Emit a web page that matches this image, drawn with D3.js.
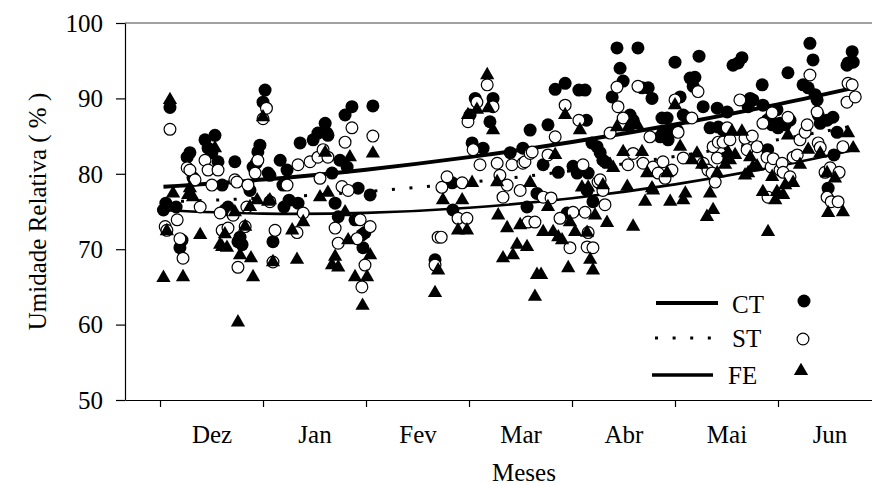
<!DOCTYPE html>
<html>
<head>
<meta charset="utf-8">
<script src="https://cdn.jsdelivr.net/npm/d3@7"></script>
<style>
  body { margin: 0; background: #fff; }
  svg text { font-family: "Liberation Serif", "Times New Roman", Times, serif; fill: #000; }
</style>
</head>
<body>
<svg id="chart" width="872" height="485"></svg>
<script>
// Months on the x axis (30-day blocks starting at day 0 = 1 Dez)
const meses = ["Dez", "Jan", "Fev", "Mar", "Abr", "Mai", "Jun"];
const inicioMes = [0, 30, 60, 90, 120, 150, 180];
const yTicks = [50, 60, 70, 80, 90, 100];

// Daily relative humidity (%) — [dia, UR]
const ct = [[1,75.2],[1.7,76.1],[2.9,88.8],[4.7,75.6],[5.8,70.2],[6.4,71.2],[7.9,82.2],[8.7,82.8],[9.6,79.5],[13.1,84.5],[14,83.4],[15.1,82.8],[16,85.1],[16.9,81.6],[18.1,78.5],[18.9,75.2],[19.8,75.6],[21.8,81.6],[22.7,71.0],[23.3,71.6],[23.9,70.6],[26.2,77.8],[27.1,80.9],[28,81.4],[28.5,82.9],[29.1,83.8],[30,89.5],[30.6,91.1],[31.5,80.1],[32,79.8],[32.9,71.0],[35,81.8],[35.8,78.5],[36.1,75.6],[37,80.5],[37.6,76.5],[40.2,76.1],[40.8,84.1],[44.6,84.5],[46,85.4],[48.1,86.7],[48.6,85.4],[48.9,85.1],[50.1,80.1],[51,76.1],[51.9,74.3],[52.4,81.8],[53.9,87.8],[54.5,80.9],[55.9,88.9],[56.8,73.9],[57.7,78.1],[58.8,71.9],[59.1,70.2],[59.7,72.2],[61.2,77.2],[62,89.0],
  [80.1,68.6],[85.1,78.8],[85.3,75.2],[90.3,87.8],[90.9,84.1],[91.8,90.0],[94.1,83.4],[96.1,86.9],[97,90.0],[102,82.8],[105.7,83.4],[106.9,75.6],[107.8,85.8],[109.8,77.4],[111.6,81.2],[113,86.5],[115.1,91.2],[116,80.2],[118,92.0],[118.6,74.8],[120.3,81.0],[121.5,80.1],[122,91.1],[123.8,91.1],[124.2,87.1],[124.4,77.8],[124.7,80.1],[125.8,84.1],[126.1,76.3],[127.3,83.6],[128.2,82.8],[129,81.8],[129.6,81.6],[131.7,90.2],[133.1,96.7],[134,94.0],[134.9,92.3],[136.9,87.8],[137.8,87.1],[139.2,96.7],[140.4,91.4],[142.2,91.4],[143.3,90.0],[145.7,84.9],[146.2,87.4],[146.5,85.5],[147.7,87.4],[148,84.5],[149.4,85.8],[150,94.8],[150.6,85.8],[151.5,90.2],[152.4,87.8],[153.8,87.4],[154.4,92.7],[155.3,91.6],[155.8,92.8],[157,95.6],[158.2,88.9],[160.2,86.1],[162.3,88.7],[162.6,86.2],[164,85.8],[164.6,82.1],[165.2,88.2],[166.9,94.4],[168.4,94.7],[169.5,95.4],[171.3,88.9],[171.9,90.0],[172.7,89.8],[175.4,91.8],[175.6,89.1],[176.8,87.1],[177,83.2],[177.7,87.4],[178.3,86.5],[179.7,88.5],[180,86.1],[180.6,86.7],[182.1,86.5],[182.9,93.4],[183.5,87.1],[187.3,91.8],[188.8,91.4],[189.3,97.3],[190.2,95.1],[190.8,90.5],[191.4,89.8],[191.7,87.8],[192.3,86.7],[194.3,87.1],[194.6,78.1],[196,87.5],[196.3,82.5],[197.2,85.5],[200.1,94.4],[200.4,94.7],[201.6,96.2],[201.9,94.8]];

const st = [[1.5,73.0],[2,72.5],[2.9,85.9],[5,73.9],[5.8,71.4],[6.7,68.8],[7.9,80.8],[8.7,80.5],[10.2,79.2],[11.7,75.6],[13.1,81.8],[14,80.5],[15.1,78.5],[16.9,80.5],[17.5,74.8],[18.1,72.5],[19.8,72.8],[21.3,74.5],[21.8,79.2],[22.4,78.9],[22.7,67.6],[24.8,73.0],[25.3,75.6],[25.6,78.5],[27.7,80.1],[28.5,81.8],[30,87.3],[31,88.7],[32,76.3],[32.9,68.3],[33.5,72.5],[37,78.5],[39.9,72.2],[40.2,81.2],[41.7,74.8],[43.7,81.6],[46,82.2],[46.6,79.4],[47.5,83.2],[48.9,82.2],[51,72.8],[51.9,70.8],[53,78.3],[53.9,84.2],[54.8,77.8],[55.9,86.1],[57.4,71.4],[58.3,73.9],[58.8,65.0],[59.7,67.9],[61.2,73.0],[62,85.0],
  [80.1,67.9],[81,71.6],[81.9,71.6],[82.1,78.2],[83.6,79.6],[86.8,74.1],[88,78.8],[89.4,74.1],[89.7,86.9],[91.2,83.2],[92.3,89.5],[93.2,81.2],[95.3,91.8],[97,88.9],[98.2,81.4],[99,79.8],[99.9,76.9],[101.1,78.5],[102.5,81.2],[104.9,77.8],[105.7,81.4],[106.3,81.6],[107.2,73.6],[107.8,82.7],[108.4,82.9],[109.2,73.6],[111.6,76.9],[113,82.5],[113.9,76.8],[115.1,84.9],[116.5,74.1],[118,89.1],[119.4,70.2],[120.3,74.9],[122,87.1],[123.2,81.2],[123.8,74.9],[124.4,70.3],[124.7,72.2],[126.1,70.2],[127.6,78.9],[128.2,79.2],[129,77.8],[129.6,75.9],[131.1,85.4],[133.1,91.5],[133.4,88.9],[134.9,87.4],[136.3,81.2],[137.8,82.7],[139.2,91.6],[140.7,81.4],[142.7,84.9],[143.6,80.9],[145.1,80.1],[146.5,81.6],[147.1,79.4],[149.1,80.5],[150,89.8],[150.9,85.5],[152.4,82.1],[154.9,87.4],[156.7,90.9],[158.2,81.4],[159.6,80.5],[160.8,80.1],[161.1,83.6],[161.7,78.9],[162.3,82.1],[162.6,84.2],[164,84.2],[165.2,86.1],[166,84.5],[168.9,89.8],[170.4,84.7],[171,83.2],[172.5,85.0],[173.9,83.6],[175.6,86.7],[176.8,82.2],[177.1,76.9],[178,80.9],[178.3,88.1],[178.6,82.0],[180.6,80.5],[181.2,81.4],[181.5,80.2],[182.9,87.5],[183.5,79.6],[184.4,82.2],[185.6,82.5],[186.4,84.5],[187.9,85.5],[188.5,86.5],[189.3,93.1],[191.4,88.2],[191.7,84.1],[192.3,83.5],[193.7,80.2],[194.3,76.9],[195.2,80.8],[195.5,76.3],[197.5,76.3],[197.8,80.2],[198.9,83.6],[200.1,89.5],[200.4,92.0],[201.6,91.8],[202.5,90.2]];

const fe = [[1,66.2],[2,72.4],[2.9,89.8],[3.8,77.4],[6.7,66.3],[8.2,77.2],[8.7,78.1],[9.6,76.9],[11.7,71.9],[16,83.4],[17.5,70.6],[18.1,70.3],[18.9,72.0],[19.5,70.2],[21.8,74.9],[22.7,60.3],[23.3,69.2],[24.8,73.0],[26.2,75.6],[26.5,68.8],[27.1,66.3],[28.3,76.5],[30,87.5],[31.5,76.3],[32,76.5],[32.9,68.3],[38.5,72.5],[39.9,68.6],[41.7,73.6],[46.6,76.9],[48.1,82.8],[48.9,77.5],[50.1,67.9],[51,69.0],[51.9,67.6],[53.9,74.9],[54.8,71.2],[55.3,82.2],[56.8,66.3],[59,62.5],[60.3,66.3],[61.2,69.2],[62,82.7],
  [80.1,64.2],[81,67.2],[82.4,76.5],[86.8,72.5],[88,76.5],[89.4,72.5],[89.7,87.8],[90.9,78.8],[92.3,88.5],[95.3,93.1],[95.6,88.7],[97,85.8],[98.2,78.9],[98.5,74.5],[99.9,68.8],[101.1,72.8],[102.8,69.2],[104,70.6],[104.9,73.2],[106.9,70.3],[107.8,78.8],[109.2,63.7],[109.8,66.6],[111,66.6],[111.6,72.3],[113,75.6],[114.5,72.3],[115.1,82.5],[116,71.6],[117.1,71.2],[118,87.8],[118.9,67.5],[119.4,73.6],[120.9,72.3],[122.3,85.8],[122.9,78.2],[124.4,72.2],[124.7,78.2],[125.3,68.6],[126.1,67.2],[126.7,74.5],[129,78.5],[130.2,73.5],[131.1,81.2],[132,80.8],[133.1,86.2],[134.9,82.9],[136.1,78.3],[136.4,86.2],[137.8,73.0],[139,86.5],[140.4,82.9],[141.3,76.3],[141.9,80.1],[143.3,78.1],[143.6,77.8],[147.7,80.1],[148.6,76.3],[150,89.1],[151.5,83.6],[152.4,76.5],[153,77.4],[154.9,81.8],[156.4,82.7],[157.9,81.2],[159.3,74.3],[160.2,77.4],[161.1,75.2],[162.3,80.1],[164.6,81.2],[165.5,82.8],[166,81.8],[166.6,85.6],[167.5,82.5],[169.5,85.6],[170.4,79.8],[171.3,80.1],[171.9,82.2],[172.7,80.9],[173.9,81.0],[175.6,77.6],[177.1,72.3],[178.3,79.6],[179.2,76.5],[179.7,77.6],[181.5,77.2],[182.1,78.5],[182.9,85.1],[184.4,78.8],[186.4,81.2],[188.8,83.2],[192.3,82.7],[194.3,80.1],[194.6,74.8],[196.6,79.4],[198.9,74.9],[200.4,85.4],[201.9,83.4]];

// Fitted trend curves, sampled at these days
const trendDias = [1, 30, 60, 90, 120, 150, 180, 202];
const ctTrend = [78.28, 79.23, 80.55, 82.21, 84.21, 86.54, 89.21, 91.39];
const stTrend = [76.27, 76.79, 77.65, 78.86, 80.41, 82.30, 84.52, 86.37];
const feTrend = [75.17, 74.72, 74.82, 75.50, 76.76, 78.60, 81.01, 83.15];

const legenda = ["CT", "ST", "FE"];

const svg = d3.select("#chart");
const FS = 25;

const x = d3.scaleLinear().domain([-10.2, 210]).range([125, 881]);
const y = d3.scaleLinear().domain([50, 100]).range([400, 23]);

// frame: top edge
svg.append("line")
  .attr("x1", x.range()[0]).attr("x2", x.range()[1])
  .attr("y1", y(100)).attr("y2", y(100))
  .attr("stroke", "#444").attr("stroke-width", 1.2);

// y axis
const gy = svg.append("g").attr("transform", `translate(${x.range()[0]},0)`)
  .call(d3.axisLeft(y).tickValues(yTicks).tickSize(9).tickSizeOuter(0).tickPadding(13).tickFormat(d3.format("d")));
gy.selectAll("text").attr("font-size", FS).attr("dy", "0.33em");

// x axis: month boundaries
const gx = svg.append("g").attr("transform", `translate(0,${y(50)})`)
  .call(d3.axisBottom(x).tickValues(inicioMes).tickSize(7).tickSizeOuter(0).tickFormat(""));

// x axis: month names centred in each month
const mid = inicioMes.map(d => d + 15);
const gxl = svg.append("g").attr("transform", `translate(0,${y(50)})`)
  .call(d3.axisBottom(x).tickValues(mid).tickSize(0).tickPadding(25)
    .tickFormat((d, i) => meses[i]));
gxl.select(".domain").remove();
gxl.selectAll("text").attr("font-size", FS);

svg.selectAll(".domain, .tick line").attr("stroke", "#000").attr("stroke-width", 1.2);

// axis titles
svg.append("text")
  .attr("transform", `translate(46,${(y(50) + y(100)) / 2}) rotate(-90)`)
  .attr("text-anchor", "middle").attr("font-size", FS)
  .text("Umidade Relativa ( % )");
svg.append("text")
  .attr("x", 524).attr("y", 481)
  .attr("text-anchor", "middle").attr("font-size", FS)
  .text("Meses");

const R = 6.5;
const tri = d3.symbol().type(d3.symbolTriangle).size(88);

const plot = svg.append("g");

// trend curves
const curve = vals => d3.line()
  .x((d, i) => x(trendDias[i]))
  .y(d => y(d))
  .curve(d3.curveNatural)(vals);

plot.append("path").attr("d", curve(ctTrend))
  .attr("fill", "none").attr("stroke", "#000").attr("stroke-width", 4);
plot.append("path").attr("d", curve(stTrend))
  .attr("fill", "none").attr("stroke", "#000").attr("stroke-width", 3)
  .attr("stroke-dasharray", "3 14.6");
plot.append("path").attr("d", curve(feTrend))
  .attr("fill", "none").attr("stroke", "#000").attr("stroke-width", 2.6);

// points
plot.append("g").selectAll("circle").data(ct).join("circle")
  .attr("cx", d => x(d[0])).attr("cy", d => y(d[1])).attr("r", R)
  .attr("fill", "#000");
plot.append("g").selectAll("circle").data(st).join("circle")
  .attr("cx", d => x(d[0])).attr("cy", d => y(d[1])).attr("r", R - 0.6)
  .attr("fill", "#fff").attr("stroke", "#000").attr("stroke-width", 1.2);
plot.append("g").selectAll("path").data(fe).join("path")
  .attr("d", tri)
  .attr("transform", d => `translate(${x(d[0])},${y(d[1])})`)
  .attr("fill", "#000");

// legend
const leg = svg.append("g");
const rows = [
  { label: legenda[0], y: 303, x1: 656, x2: 718, text: 732, base: 313, mark: "ct", mx: 804, my: 301 },
  { label: legenda[1], y: 338, x1: 655, x2: 712, text: 732, base: 347, mark: "st", mx: 803, my: 339 },
  { label: legenda[2], y: 375, x1: 652, x2: 713, text: 728, base: 384, mark: "fe", mx: 801, my: 371 }
];
rows.forEach(r => {
  const l = leg.append("line").attr("x1", r.x1).attr("x2", r.x2)
    .attr("y1", r.y).attr("y2", r.y).attr("stroke", "#000");
  if (r.mark === "st") l.attr("stroke-width", 3).attr("stroke-dasharray", "3 14.6");
  else l.attr("stroke-width", r.mark === "ct" ? 4 : 3.5);
  leg.append("text").attr("x", r.text).attr("y", r.base).attr("font-size", FS).text(r.label);
  if (r.mark === "ct") leg.append("circle").attr("cx", r.mx).attr("cy", r.my).attr("r", R).attr("fill", "#000");
  if (r.mark === "st") leg.append("circle").attr("cx", r.mx).attr("cy", r.my).attr("r", R - 0.6)
    .attr("fill", "#fff").attr("stroke", "#000").attr("stroke-width", 1.2);
  if (r.mark === "fe") leg.append("path").attr("d", tri).attr("transform", `translate(${r.mx},${r.my})`).attr("fill", "#000");
});
</script>
</body>
</html>
